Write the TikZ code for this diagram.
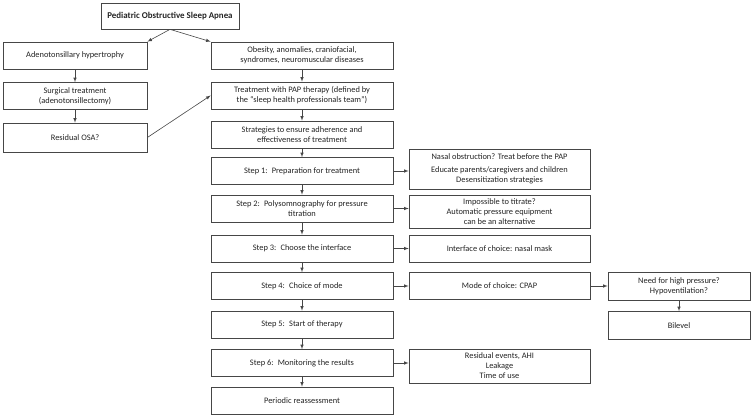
\documentclass[tikz,border=0pt]{standalone}
\usepackage{fontspec}
\setmainfont{Carlito}
\usepackage{tikz}
\usetikzlibrary{arrows, positioning, calc}
\definecolor{framegray}{RGB}{70, 70, 70}
\definecolor{textgray}{RGB}{35, 35, 35}

\begin{document}
\begin{tikzpicture}[x=1pt, y=-1pt,
  box/.style={draw=framegray, line width=0.7pt, align=center, text=textgray,
              font=\fontsize{8.4}{10}\selectfont, inner sep=1pt},
  leftbox/.style={box, minimum width=144pt, minimum height=27pt},
  stepbox/.style={box, minimum width=182pt, minimum height=27pt},
  sidebox/.style={box, minimum width=181pt, minimum height=27pt},
  farbox/.style={box, minimum width=142pt, minimum height=28pt},
  arr/.style={-latex, draw=framegray, line width=0.6pt}]

\useasboundingbox (0,0) rectangle (751,417);

% title
\node[box, minimum width=138pt, minimum height=26pt, font=\fontsize{8.9}{10}\selectfont\bfseries]
  (osa) at (170,16) {Pediatric Obstructive Sleep Apnea};

% left branch — surgery
\node[leftbox] (adeno) at (75,55.5) {Adenotonsillary hypertrophy};
\node[leftbox] (surg) at (75,96) {Surgical treatment\\(adenotonsillectomy)};
\node[leftbox, minimum height=29pt] (resid) at (75,137.5) {Residual OSA?};

% right branch — PAP pathway
\node[stepbox] (obes) at (302,55.5) {Obesity, anomalies, craniofacial,\\syndromes, neuromuscular diseases};
\node[stepbox] (pap) at (302,95.5) {Treatment with PAP therapy (defined by\\the “sleep health professionals team”)};
\node[stepbox] (strat) at (302,134.5) {Strategies to ensure adherence and\\effectiveness of treatment};
\node[stepbox] (s1) at (302,171) {Step 1:\enspace Preparation for treatment};
\node[stepbox] (s2) at (302,208.5) {Step 2:\enspace Polysomnography for pressure\\titration};
\node[stepbox] (s3) at (302,248.5) {Step 3:\enspace Choose the interface};
\node[stepbox] (s4) at (302,286) {Step 4:\enspace Choice of mode};
\node[stepbox] (s5) at (302,324.5) {Step 5:\enspace Start of therapy};
\node[stepbox] (s6) at (302,363) {Step 6:\enspace Monitoring the results};
\node[stepbox] (reass) at (302,400.5) {Periodic reassessment};

% side notes
\node[sidebox, minimum height=40pt] (nasal) at (499.5,169)
  {Nasal obstruction? Treat before the PAP\\[3pt]Educate parents/caregivers and children\\Desensitization strategies};
\node[sidebox, minimum height=33pt] (titr) at (499.5,211.5)
  {Impossible to titrate?\\Automatic pressure equipment\\can be an alternative};
\node[sidebox] (iface) at (499.5,248.5) {Interface of choice: nasal mask};
\node[sidebox] (mode) at (499.5,286) {Mode of choice: CPAP};
\node[sidebox, minimum height=34pt] (monit) at (499.5,366) {Residual events, AHI\\Leakage\\Time of use};
\node[farbox] (need) at (679,286) {Need for high pressure?\\Hypoventilation?};
\node[farbox] (bilev) at (679,325.5) {Bilevel};

% connectors
\draw[arr] (osa.south) -- (adeno.north east);
\draw[arr] (osa.south) -- (obes.north west);
\draw[arr] (adeno) -- (surg);
\draw[arr] (surg) -- (resid);
\draw[arr] (resid.east) -- (pap.west);
\draw[arr] (obes) -- (pap);
\draw[arr] (pap) -- (strat);
\draw[arr] (strat) -- (s1);
\draw[arr] (s1) -- (s2);
\draw[arr] (s2) -- (s3);
\draw[arr] (s3) -- (s4);
\draw[arr] (s4) -- (s5);
\draw[arr] (s5) -- (s6);
\draw[arr] (s6) -- (reass);
\draw[arr] (s1.east) -- (s1.east -| nasal.west);
\draw[arr] (s2.east) -- (s2.east -| titr.west);
\draw[arr] (s3) -- (iface);
\draw[arr] (s4) -- (mode);
\draw[arr] (mode) -- (need);
\draw[arr] (need) -- (bilev);
\draw[arr] (s6.east) -- (s6.east -| monit.west);

\end{tikzpicture}
\end{document}
